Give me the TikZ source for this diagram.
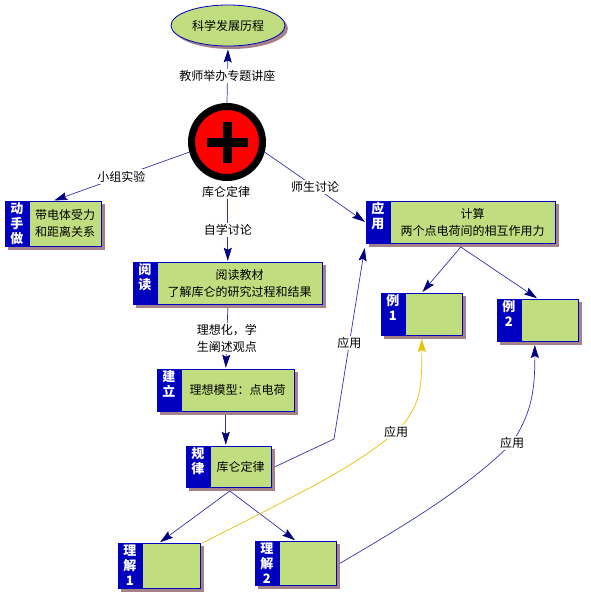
\documentclass[tikz,border=0pt]{standalone}
\usepackage{fontspec}
\setmainfont{Noto Sans CJK SC}
\usetikzlibrary{arrows.meta,positioning,shadows,fit,shapes.geometric,backgrounds}
\definecolor{mapblue}{RGB}{0,0,190}
\definecolor{mapline}{RGB}{50,50,165}
\definecolor{maptip}{RGB}{0,0,128}
\definecolor{mapgreen}{RGB}{192,222,128}
\definecolor{mapshadow}{RGB}{165,130,135}
\definecolor{mapyellow}{RGB}{232,192,0}
\tikzset{
	mapshade/.style={drop shadow={shadow xshift=3pt,shadow yshift=-3pt,draw=none,fill=mapshadow,opacity=1}},
	tagbox/.style={draw=mapblue,line width=0.8pt,fill=mapblue,text=white,font=\fontsize{13}{15}\selectfont\bfseries,
		inner sep=0pt},
	bodybox/.style={draw=mapblue,line width=0.8pt,fill=mapgreen,align=center,inner sep=0pt,
		font=\fontsize{12}{17}\selectfont},
	wholebox/.style={inner sep=0pt},
	link/.style={draw=mapline,line width=0.7pt,shorten >=1pt,-{Stealth[length=13pt,width=8pt,inset=2pt,color=maptip]}},
	goldlink/.style={draw=mapyellow,line width=0.7pt,shorten >=3pt,-{Stealth[length=13pt,width=8pt,inset=2pt,color=mapyellow]}},
	linklabel/.style={fill=white,inner sep=1.5pt,align=center,font=\fontsize{12}{17}\selectfont}
}
% #1 name, #2 x, #3 y, #4 body width, #5 height, #6 tag text, #7 body text
\newcommand{\topicbox}[7]{
	\node[tagbox,anchor=north west] (#1tag) at (#2,#3) {\parbox[c][#5pt][t]{23pt}{\centering\vspace*{1pt}#6}};
	\node[bodybox,right=0pt of #1tag,minimum width=#4pt,minimum height=#5pt] (#1body) {#7};
	\node[wholebox,fit=(#1tag)(#1body)] (#1) {};
	\begin{scope}[on background layer]
		\fill[mapshadow] ([shift={(3,3)}]#1.north west) rectangle ([shift={(3,3)}]#1.south east);
	\end{scope}
}
\begin{document}
\begin{tikzpicture}[x=1pt,y=-1pt]
\useasboundingbox (0,0) rectangle (590,600);

% top of the map
\node[ellipse,draw=mapblue,line width=0.8pt,fill=mapgreen,minimum width=114pt,minimum height=41pt,inner sep=0pt,
	font=\fontsize{12}{14}\selectfont,mapshade] (history) at (228,25.5) {科学发展历程};

\node[circle,draw=black,line width=7pt,fill=red,minimum size=71pt,inner sep=0pt] (law) at (227,142) {};
\fill[black] (206.5,137.5) rectangle (247.5,146.5);
\fill[black] (222.5,121.5) rectangle (231.5,162.5);
\node[font=\fontsize{12}{14}\selectfont,inner sep=1pt] (lawname) at (226,192) {库仑定律};

% boxes
\topicbox{hands}{5}{201}{72}{45}{动\\手\\做}{带电体受力\\和距离关系}
\topicbox{yuedu}{133}{262}{165}{42}{阅\\读}{阅读教材\\了解库仑的研究过程和结果}
\topicbox{model}{157}{369}{113}{42}{建\\立}{理想模型：点电荷}
\topicbox{guilv}{186}{446}{61}{41}{规\\律}{库仑定律}
\topicbox{apply}{366}{201}{165}{42}{应\\用}{计算\\两个点电荷间的相互作用力}
\topicbox{liyi}{381}{293}{57}{42}{例\\1}{}
\topicbox{lier}{497}{299}{57}{42}{例\\2}{}
\topicbox{lijieyi}{118}{543}{58}{45}{理\\解\\1}{}
\topicbox{lijieer}{255}{541}{57}{44}{理\\解\\2}{}

% connectors
\draw[link,shorten >=3pt] (law.north) -- node[linklabel,pos=0.47] {教师举办专题讲座} (history.south);
\draw[link] (law.195) -- node[linklabel] {小组实验} (hands.north);
\draw[link] (law.-15) -- node[linklabel] {师生讨论} (apply.west);
\draw[link] (yuedu.north |- lawname.south) -- node[linklabel] {自学讨论} (yuedu.north);
\draw[link] ([yshift=-3pt]yuedu.south) -- node[linklabel] {理想化，学\\生阐述观点} (model.north);
\draw[link] ([yshift=-3pt]model.south) -- (model.south |- guilv.north);
\coordinate (bendapply) at (334,439);
\draw[link] ([xshift=3pt]guilv.east) -- (bendapply) -- node[linklabel] {应用} ([xshift=-1pt,yshift=-3pt]apply.south west);
\draw[link] ([xshift=1pt,yshift=-3pt]guilv.south) -- (lijieyi.north);
\draw[link] ([xshift=1pt,yshift=-3pt]guilv.south) -- (lijieer.north);
\draw[link] ([yshift=-3pt]apply.south) -- (liyi.north);
\draw[link] ([yshift=-3pt]apply.south) -- (lier.north);
\draw[goldlink] ([xshift=2pt]lijieyi.north east) .. controls (300,493) and (350,470) .. (396,432) node[linklabel] {应用}
	.. controls (420,408) and (422,390) .. (liyi.south);
\draw[link,shorten >=3pt] ([xshift=3pt]lijieer.east) .. controls (400,528) and (465,490) .. (512,443) node[linklabel] {应用}
	.. controls (530,415) and (535,395) .. ([xshift=-3pt]lier.south);
\end{tikzpicture}
\end{document}
